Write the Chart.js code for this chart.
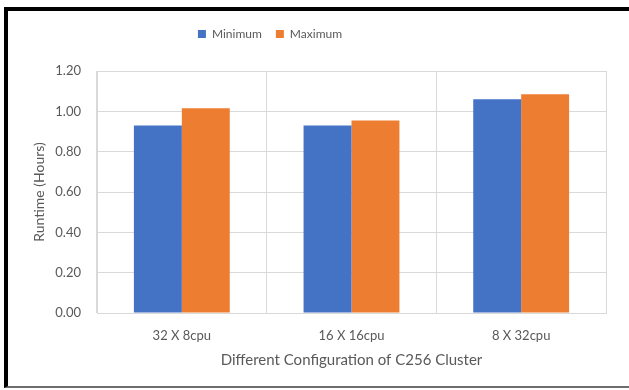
<!DOCTYPE html>
<html>
<head>
<meta charset="utf-8">
<script src="https://cdn.jsdelivr.net/npm/chart.js@4.4.1/dist/chart.umd.min.js"></script>
<style>
  html, body { margin: 0; padding: 0; background: #fff; }
  #wrap { position: relative; width: 629px; height: 390px; overflow: hidden; }
  #frame {
    position: absolute; left: 4px; top: 7px; width: 640px; height: 381px;
    border-left: 4px solid #000; border-top: 4px solid #000; border-bottom: 2px solid #6e6e6e;
    box-sizing: border-box;
  }
  #c { position: absolute; left: 0; top: 0; }
</style>
</head>
<body>
<div id="wrap">
  <div id="frame"></div>
  <canvas id="c" width="629" height="390"></canvas>
</div>
<script>
// Runtime of the C256 cluster under different node / CPU splits
const configurations = ['32 X 8cpu', '16 X 16cpu', '8 X 32cpu'];
const minimumHours = [0.93, 0.93, 1.06];
const maximumHours = [1.015, 0.955, 1.085];
const yTicks = [0, 0.2, 0.4, 0.6, 0.8, 1.0, 1.2];

const FONT = 'Lato, "Open Sans", sans-serif';
const TEXT = '#595959';
const GRID = '#d9d9d9';

// Reserve room under the legend and shift it left of centre
const legendPlacement = {
  id: 'legendPlacement',
  beforeInit(chart) {
    const legend = chart.legend;
    const fit = legend.fit;
    legend.fit = function () {
      fit.call(this);
      this.height = 57;
    };
  },
  afterLayout(chart) {
    chart.legend.left -= 33;
    chart.legend.right -= 33;
  }
};

new Chart(document.getElementById('c'), {
  type: 'bar',
  data: {
    labels: configurations,
    datasets: [
      { label: 'Minimum', data: minimumHours, backgroundColor: '#4472C4',
        categoryPercentage: 0.565, barPercentage: 1.0 },
      { label: 'Maximum', data: maximumHours, backgroundColor: '#ED7D31',
        categoryPercentage: 0.565, barPercentage: 1.0 }
    ]
  },
  plugins: [legendPlacement],
  options: {
    responsive: false,
    animation: false,
    devicePixelRatio: 1,
    layout: { padding: { left: 0, right: 23, top: 14, bottom: 0 } },
    plugins: {
      tooltip: { enabled: false },
      legend: {
        position: 'top',
        labels: {
          boxWidth: 8, boxHeight: 8, padding: 14,
          color: TEXT, font: { family: FONT, size: 12 }
        }
      }
    },
    scales: {
      x: {
        afterFit: (s) => { s.height = 77; },
        grid: { color: GRID, drawTicks: false, offset: true },
        border: { color: GRID },
        ticks: { color: TEXT, font: { family: FONT, size: 13 }, padding: 15 },
        title: { display: true, text: 'Different Configuration of C256 Cluster',
                 color: TEXT, font: { family: FONT, size: 15 }, padding: { top: 0, bottom: 21 } }
      },
      y: {
        min: 0, max: 1.2,
        afterBuildTicks: (s) => { s.ticks = yTicks.map(v => ({ value: v })); },
        afterFit: (s) => { s.width = 97; },
        grid: { color: GRID, drawTicks: false },
        border: { color: GRID },
        ticks: { color: TEXT, font: { family: FONT, size: 13 }, padding: 16,
                 callback: (v) => Number(v).toFixed(2) },
        title: { display: true, text: 'Runtime (Hours)', color: TEXT,
                 font: { family: FONT, size: 14 }, padding: { top: 31, bottom: 0 } }
      }
    }
  }
});
</script>
</body>
</html>
